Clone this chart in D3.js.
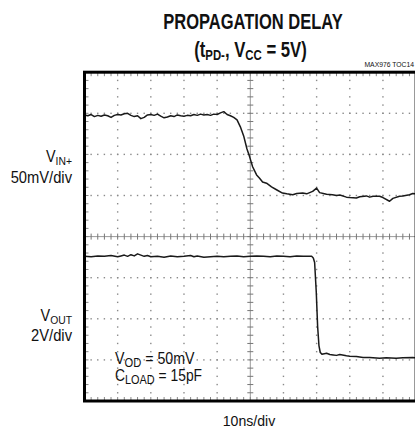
<!DOCTYPE html>
<html><head><meta charset="utf-8">
<script src="https://cdn.jsdelivr.net/npm/d3@7"></script>
<style>
html,body{margin:0;padding:0;background:#fff;}
svg{display:block;}
text{font-family:"Liberation Sans",Arial,sans-serif;fill:#111;}
</style></head>
<body>
<svg id="c" width="415" height="429"></svg>
<script>
// ---- data (time in ns, amplitude in screen divisions from bottom) ----
const vinT = [0,1,2,3,4,5,6,7,8,9,10,11,12,13,14,15,16,17,18,19,20,21,22,23,24,25,26,27,28,29,30,31,32,33,34,35,36,37,38,39,40,41,42,43,44,45,46,47,48,49,49.8,50.7,51.9,52.8,53.7,54.9,56.4,57.9,59.7,61,62.8,64,65.8,67,68.8,70,70.9,72,73,74.8,76,77,79,80,82,83,85,86,87,89,90,92,93,95,96,98,99,100];
const vinV = [6.96,6.94,6.97,6.92,6.95,6.93,6.96,6.94,6.90,6.95,6.97,6.96,6.99,7.00,6.95,6.92,6.94,6.87,6.90,6.96,6.97,6.95,6.98,6.93,6.89,6.91,6.94,6.92,6.96,6.94,6.93,6.95,6.94,6.97,6.95,6.98,6.96,6.97,6.95,6.98,6.97,7.01,7.04,6.97,6.94,6.90,6.84,6.67,6.45,6.13,5.94,5.70,5.50,5.42,5.33,5.30,5.21,5.14,5.06,5.04,5.02,5.05,5.06,5.04,5.10,5.18,5.07,5.05,5.03,5.02,5.00,5.01,4.96,4.95,4.94,4.97,4.99,4.96,4.98,4.98,4.95,4.86,4.93,4.98,4.99,5.02,5.05,5.04];
const voutT = [0,2,4,6,8,10,11,12,13,14,15,16,17,18,19,20,22,24,26,28,30,32,33,34,36,38,40,42,44,46,48,50,52,54,56,58,60,62,64,66,68.5,69.0,69.4,69.9,70.3,70.7,71.1,71.6,73,74,75,76,77,79,80,82,84,86,89,91,94,96,99,100];
const voutV = [3.52,3.51,3.53,3.52,3.54,3.51,3.53,3.55,3.52,3.56,3.53,3.58,3.55,3.52,3.54,3.51,3.52,3.50,3.53,3.51,3.52,3.54,3.51,3.53,3.50,3.51,3.52,3.51,3.52,3.53,3.51,3.52,3.53,3.52,3.51,3.53,3.52,3.51,3.53,3.52,3.52,3.48,3.37,2.64,1.82,1.35,1.18,1.14,1.16,1.13,1.12,1.11,1.13,1.10,1.09,1.08,1.06,1.06,1.04,1.05,1.04,1.05,1.06,1.05];
const xDivs = 10, yDivs = 8, nsPerDiv = 10;

const svg = d3.select("#c");
const x = d3.scaleLinear().domain([0, xDivs*nsPerDiv]).range([84.5, 416.1]);
const y = d3.scaleLinear().domain([0, yDivs]).range([401, 72.2]);

const g = svg.append("g");
const xMajor = d3.range(1, xDivs).map(d => d*nsPerDiv);
const yMajor = d3.range(1, yDivs);
const xMinor = d3.range(0, xDivs*5+1).map(d => d*nsPerDiv/5);
const yMinor = d3.range(0, yDivs*5+1).map(d => d/5);
const xc = xDivs*nsPerDiv/2, yc = yDivs/2;

// dotted graticule
const dots = [];
yMajor.filter(v => v !== yc).forEach(v => xMinor.forEach(t => dots.push([t, v])));
xMajor.filter(t => t !== xc).forEach(t => yMinor.forEach(v => dots.push([t, v])));
g.selectAll("rect.dot").data(dots).join("rect").attr("class","dot")
  .attr("x", d => x(d[0]) - 0.7).attr("y", d => y(d[1]) - 0.7)
  .attr("width", 1.4).attr("height", 1.4).attr("fill", "#8a8a8a");

// center cross with ticks
g.append("line").attr("x1", x(xc)).attr("x2", x(xc)).attr("y1", y(0)).attr("y2", y(yDivs))
  .attr("stroke", "#9a9a9a").attr("stroke-width", 1);
g.append("line").attr("x1", x(0)).attr("x2", x(xDivs*nsPerDiv)).attr("y1", y(yc)).attr("y2", y(yc))
  .attr("stroke", "#9a9a9a").attr("stroke-width", 1);
g.selectAll("line.vt").data(yMinor).join("line").attr("class","vt")
  .attr("x1", x(xc) - 3).attr("x2", x(xc) + 3).attr("y1", d => y(d)).attr("y2", d => y(d))
  .attr("stroke", "#777").attr("stroke-width", 1);
g.selectAll("line.ht").data(xMinor).join("line").attr("class","ht")
  .attr("x1", d => x(d)).attr("x2", d => x(d)).attr("y1", y(yc) - 3).attr("y2", y(yc) + 3)
  .attr("stroke", "#777").attr("stroke-width", 1);
// border ticks
g.selectAll("line.bt").data(xMinor).join("line").attr("class","bt")
  .attr("x1", d => x(d)).attr("x2", d => x(d)).attr("y1", y(0) - 4).attr("y2", y(0))
  .attr("stroke", "#888").attr("stroke-width", 1);
g.selectAll("line.tt").data(xMinor).join("line").attr("class","tt")
  .attr("x1", d => x(d)).attr("x2", d => x(d)).attr("y1", y(yDivs)).attr("y2", y(yDivs) + 4)
  .attr("stroke", "#888").attr("stroke-width", 1);
g.selectAll("line.lt").data(yMinor).join("line").attr("class","lt")
  .attr("x1", x(0)).attr("x2", x(0) + 4).attr("y1", d => y(d)).attr("y2", d => y(d))
  .attr("stroke", "#888").attr("stroke-width", 1);

// traces
const line = d3.line().x(d => x(d[0])).y(d => y(d[1]));
g.append("path").datum(vinT.map((t,i) => [t, vinV[i]])).attr("d", line)
  .attr("fill","none").attr("stroke","#1a1a1a").attr("stroke-width",1.5).attr("stroke-linejoin","round");
g.append("path").datum(voutT.map((t,i) => [t, voutV[i]])).attr("d", line)
  .attr("fill","none").attr("stroke","#1a1a1a").attr("stroke-width",1.5).attr("stroke-linejoin","round");

// frame
g.append("rect").attr("x", x(0)).attr("y", y(yDivs)).attr("width", x(xDivs*nsPerDiv) - x(0))
  .attr("height", y(0) - y(yDivs)).attr("fill","none").attr("stroke","#000").attr("stroke-width",3);

// texts (condensed by horizontal scaling)
function richText(xp, yp, parts, size, subSize, anchor, weight, sx, dsub){
  const d = dsub || 3;
  const t = svg.append("text")
    .attr("transform", `translate(${xp},${yp}) scale(${sx||1},1)`)
    .attr("font-size", size).attr("text-anchor", anchor).attr("font-weight", weight || "normal");
  let down = false;
  parts.forEach(p => {
    const ts = t.append("tspan").text(p[0]);
    if (p[1] && !down){ ts.attr("font-size", subSize).attr("dy", d); down = true; }
    else if (!p[1] && down){ ts.attr("dy", -d); down = false; }
  });
  return t;
}
richText(253, 28.5, [["PROPAGATION DELAY"]], 22, 22, "middle", "bold", 0.75);
richText(250.5, 56.5, [["(t"],["PD-",1],[", V"],["CC",1],[" = 5V)"]], 22, 15, "middle", "bold", 0.76);
richText(414, 67, [["MAX976 TOC14"]], 8, 8, "end", "normal", 0.85);
richText(72, 162, [["V"],["IN+",1]], 16, 11.5, "end", "normal", 0.9, 2.5);
richText(72, 183, [["50mV/div"]], 16, 16, "end", "normal", 0.92);
richText(72, 321, [["V"],["OUT",1]], 16, 11.5, "end", "normal", 0.9, 2.5);
richText(72, 341, [["2V/div"]], 16, 16, "end", "normal", 0.92);
richText(115, 364, [["V"],["OD",1],[" = 50mV"]], 16.5, 13, "start", "normal", 0.86);
richText(115, 381, [["C"],["LOAD",1],[" = 15pF"]], 16.5, 13, "start", "normal", 0.84);
richText(249, 425.5, [["10ns/div"]], 15, 15, "middle", "normal", 0.94);
</script>
</body></html>
